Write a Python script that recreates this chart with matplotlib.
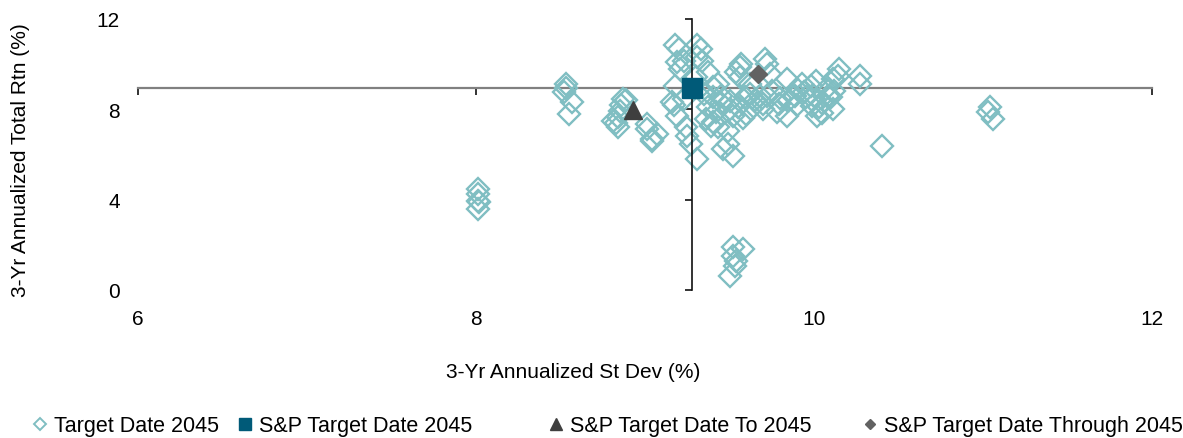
import matplotlib
matplotlib.use("Agg")
import matplotlib.pyplot as plt
from matplotlib.lines import Line2D

plt.rcParams['font.family'] = ['Liberation Sans', 'DejaVu Sans']

# ---- data ----
td_x = [8.53, 8.53, 8.52, 8.57, 8.55,
        8.87, 8.86, 8.85, 8.84, 8.83, 8.84, 8.89, 8.81,
        9.01, 9.01, 9.07, 9.04, 9.04,
        9.18, 9.20, 9.23, 9.19, 9.21, 9.18, 9.16, 9.17, 9.19, 9.23, 9.24, 9.25, 9.27, 9.31,
        9.31, 9.33, 9.31, 9.34, 9.30, 9.37, 9.43,
        9.40, 9.40, 9.37, 9.50, 9.52, 9.43, 9.39, 9.46, 9.52, 9.49, 9.36, 9.40, 9.49,
        9.56, 9.54, 9.57, 9.56, 9.59, 9.68, 9.63, 9.70, 9.79, 9.84, 9.89, 9.95, 9.99,
        10.02, 10.05, 10.08, 10.11, 9.98, 9.71, 9.72, 9.74, 9.84, 9.93, 10.01, 10.15,
        10.14, 10.11, 10.27, 10.27, 10.10,
        9.62, 9.65, 9.75, 9.80, 9.90, 10.05, 9.45, 9.55, 9.60, 9.70, 10.00, 10.07, 9.94,
        9.45, 9.50, 9.58, 9.66, 9.72, 9.78, 9.85, 9.90, 10.03, 10.12, 9.62, 9.35, 9.42,
        10.40, 11.04, 11.03, 11.06,
        8.01, 8.01, 8.01, 8.02, 8.01,
        9.52, 9.58, 9.52, 9.54, 9.53, 9.50]
td_y = [9.12, 8.95, 8.77, 8.33, 7.79,
        8.46, 8.19, 7.93, 7.66, 7.40, 7.22, 8.41, 7.48,
        7.35, 7.13, 6.91, 6.60, 6.69,
        10.85, 10.67, 10.14, 10.10, 9.79, 9.03, 8.33, 8.19, 7.71, 8.46, 7.22, 6.82, 6.47, 5.80,
        10.85, 10.67, 10.32, 10.14, 9.43, 9.65, 9.12,
        8.99, 8.55, 8.10, 8.37, 7.71, 7.22, 7.26, 6.24, 5.93, 7.04, 7.57, 7.44, 6.47,
        9.88, 9.65, 10.01, 9.43, 8.55, 8.59, 8.02, 8.24, 8.24, 7.71, 8.59, 8.55, 8.15,
        7.71, 7.84, 8.59, 8.02, 9.03, 10.23, 10.01, 9.57, 9.34, 9.12, 9.26, 9.79,
        9.48, 9.34, 9.48, 9.12, 8.55,
        8.70, 8.40, 8.80, 8.50, 8.20, 8.30, 8.60, 8.10, 7.80, 8.00, 8.60, 8.90, 8.75,
        8.30, 8.00, 7.60, 8.30, 8.60, 7.90, 8.40, 8.90, 8.10, 8.80, 9.10, 8.70, 7.90,
        6.38, 8.10, 7.88, 7.57,
        4.47, 4.25, 3.94, 3.90, 3.59,
        1.90, 1.82, 1.51, 1.28, 1.06, 0.62]

sp_x, sp_y = 9.28, 8.94          # S&P Target Date 2045
to_x, to_y = 8.93, 7.95          # S&P Target Date To 2045
thr_x, thr_y = 9.67, 9.57        # S&P Target Date Through 2045

x_ticks = [6, 8, 10, 12]
y_ticks = [0, 4, 8, 12]
labels = ['Target Date 2045', 'S&P Target Date 2045',
          'S&P Target Date To 2045', 'S&P Target Date Through 2045']

teal = '#80BEC2'
navy = '#005A78'
tri_c = '#3F3F3F'
dia_c = '#626262'

fig = plt.figure(figsize=(11.83, 4.39), dpi=100)
pos = [138/1183, 1-291/439, (1152-138)/1183, (291-20)/439]
ax2 = fig.add_axes(pos, frameon=False)
ax = fig.add_axes(pos)
ax.patch.set_alpha(0)

for a in (ax, ax2):
    a.set_xlim(6, 12)
    a.set_ylim(0, 12)
    a.set_xticks(x_ticks)
    a.set_yticks(y_ticks)

ax.plot(td_x, td_y, linestyle='none', marker='D', markersize=11,
        markerfacecolor='none', markeredgecolor=teal, markeredgewidth=1.7, zorder=3)
ax.plot([sp_x], [sp_y], linestyle='none', marker='s', markersize=14,
        color=navy, zorder=5)
ax.plot([to_x], [to_y], linestyle='none', marker='^', markersize=13,
        color=tri_c, zorder=5)
ax.plot([thr_x], [thr_y], linestyle='none', marker='D', markersize=9,
        color=dia_c, zorder=5)

for s in ('top', 'right'):
    ax.spines[s].set_visible(False)
ax.spines['left'].set_position(('data', sp_x))
ax.spines['bottom'].set_position(('data', sp_y))
ax.spines['left'].set_color('#111111')
ax.spines['left'].set_linewidth(1.2)
ax.spines['bottom'].set_color('#808080')
ax.spines['bottom'].set_linewidth(1.6)
ax.spines['left'].set_zorder(4)
ax.spines['bottom'].set_zorder(2)
ax.tick_params(axis='both', direction='out', length=5, width=1.2,
               color='#111111', labelbottom=False, labelleft=False)

ax2.tick_params(axis='both', length=0, labelsize=15, labelcolor='#000000')
ax2.tick_params(axis='y', pad=13)
ax2.tick_params(axis='x', pad=14)
ax2.set_xlabel('3-Yr Annualized St Dev (%)', fontsize=15)
ax2.set_ylabel('3-Yr Annualized Total Rtn (%)', fontsize=15)
ax2.xaxis.set_label_coords(0.429, -0.266)
ax2.yaxis.set_label_coords(-0.1065, 0.483)

handles = [
    Line2D([], [], linestyle='none', marker='D', markersize=6.5,
           markerfacecolor='none', markeredgecolor=teal, markeredgewidth=1.4),
    Line2D([], [], linestyle='none', marker='s', markersize=9, color=navy),
    Line2D([], [], linestyle='none', marker='^', markersize=8, color=tri_c),
    Line2D([], [], linestyle='none', marker='D', markersize=5.5, color=dia_c),
]
legend_x = [31, 236, 547, 861]
for h, lab, lx in zip(handles, labels, legend_x):
    fig.legend([h], [lab], loc='center left', bbox_to_anchor=(lx/1183, 1-427/439),
               frameon=False, fontsize=15.5, handlelength=0.8,
               handletextpad=0.25, borderaxespad=0, borderpad=0)

fig.savefig('out.png', dpi=100)
